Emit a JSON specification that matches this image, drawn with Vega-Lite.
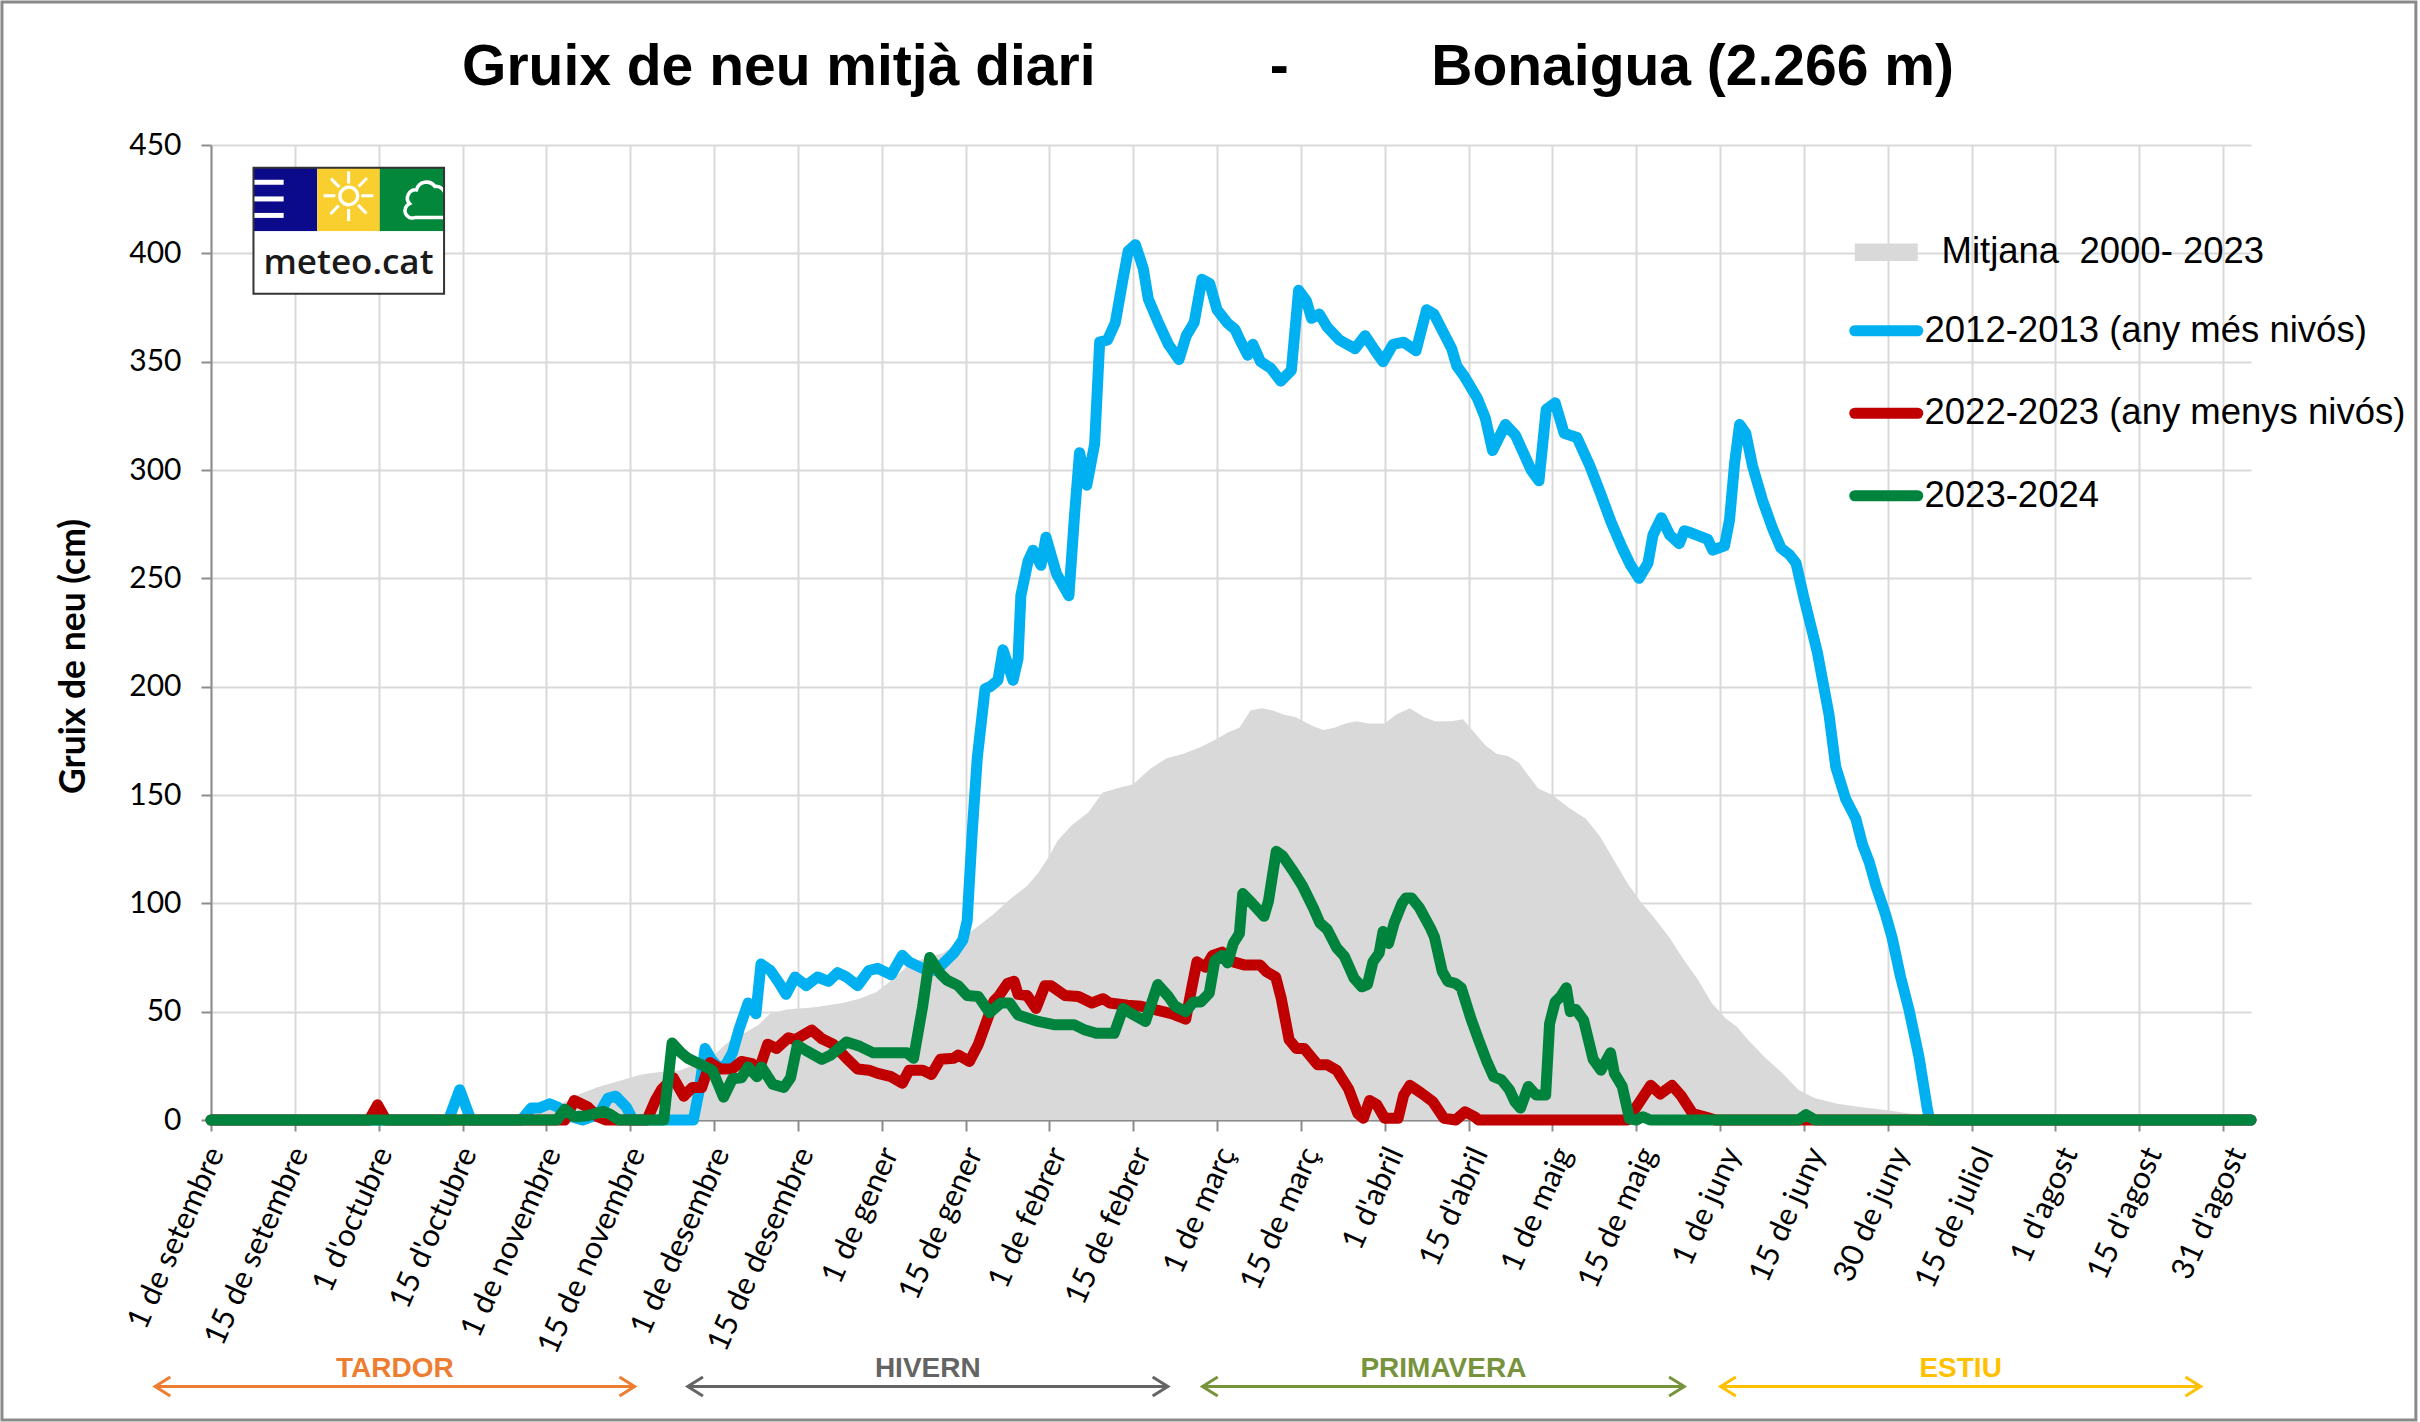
{
"$schema": "https://vega.github.io/schema/vega-lite/v6.json",
"width": 2040, "height": 975,
"autosize": {"type": "none"},
"padding": {"left": 211, "top": 145, "right": 169, "bottom": 302},
"background": "white",
"config": {"view": {"stroke": null}, "font": "Liberation Sans"},
"title": {"text": "Gruix de neu mitjà diari\u00a0\u00a0\u00a0\u00a0\u00a0\u00a0\u00a0\u00a0\u00a0\u00a0\u00a0-\u00a0\u00a0\u00a0\u00a0\u00a0\u00a0\u00a0\u00a0\u00a0Bonaigua (2.266 m)", "font": "Liberation Sans", "fontSize": 57, "fontWeight": "bold", "color": "black", "anchor": "middle", "dx": -23, "dy": 62, "offset": -79.5, "baseline": "alphabetic"},
"data": {"values": [
{"serie":"M","dia":0,"gruix":0},{"serie":"M","dia":50,"gruix":0},{"serie":"M","dia":55,"gruix":2},{"serie":"M","dia":60,"gruix":5},{"serie":"M","dia":63,"gruix":8},{"serie":"M","dia":66,"gruix":12},{"serie":"M","dia":69,"gruix":15},{"serie":"M","dia":73,"gruix":18},{"serie":"M","dia":77,"gruix":21},{"serie":"M","dia":80,"gruix":22},{"serie":"M","dia":84,"gruix":23},{"serie":"M","dia":87,"gruix":26},{"serie":"M","dia":90,"gruix":30},{"serie":"M","dia":93,"gruix":37},{"serie":"M","dia":96,"gruix":41},{"serie":"M","dia":98,"gruix":44},{"serie":"M","dia":100,"gruix":49},{"serie":"M","dia":103,"gruix":51},{"serie":"M","dia":108,"gruix":52},{"serie":"M","dia":113,"gruix":54},{"serie":"M","dia":116,"gruix":56},{"serie":"M","dia":119,"gruix":59},{"serie":"M","dia":122,"gruix":65},{"serie":"M","dia":125,"gruix":72},{"serie":"M","dia":128,"gruix":75},{"serie":"M","dia":131,"gruix":77},{"serie":"M","dia":134,"gruix":83},{"serie":"M","dia":137,"gruix":89},{"serie":"M","dia":140,"gruix":95},{"serie":"M","dia":143,"gruix":102},{"serie":"M","dia":146,"gruix":108},{"serie":"M","dia":148,"gruix":114},{"serie":"M","dia":150,"gruix":122},{"serie":"M","dia":151.5,"gruix":129},{"serie":"M","dia":154,"gruix":136},{"serie":"M","dia":157,"gruix":142},{"serie":"M","dia":159.5,"gruix":151},{"serie":"M","dia":162,"gruix":153},{"serie":"M","dia":165,"gruix":155},{"serie":"M","dia":168,"gruix":162},{"serie":"M","dia":171,"gruix":167},{"serie":"M","dia":174,"gruix":169},{"serie":"M","dia":177,"gruix":172},{"serie":"M","dia":180,"gruix":176},{"serie":"M","dia":182,"gruix":179},{"serie":"M","dia":184,"gruix":181},{"serie":"M","dia":186,"gruix":189},{"serie":"M","dia":188,"gruix":190},{"serie":"M","dia":190,"gruix":189},{"serie":"M","dia":192,"gruix":187},{"serie":"M","dia":194,"gruix":186},{"serie":"M","dia":197,"gruix":182},{"serie":"M","dia":199,"gruix":180},{"serie":"M","dia":201,"gruix":181},{"serie":"M","dia":203,"gruix":183},{"serie":"M","dia":205,"gruix":184},{"serie":"M","dia":207,"gruix":183},{"serie":"M","dia":210,"gruix":183},{"serie":"M","dia":212,"gruix":187},{"serie":"M","dia":214.5,"gruix":190},{"serie":"M","dia":217,"gruix":186},{"serie":"M","dia":219,"gruix":184},{"serie":"M","dia":222,"gruix":184},{"serie":"M","dia":224,"gruix":185},{"serie":"M","dia":226,"gruix":179},{"serie":"M","dia":228,"gruix":173},{"serie":"M","dia":230,"gruix":169},{"serie":"M","dia":232,"gruix":168},{"serie":"M","dia":234,"gruix":165},{"serie":"M","dia":236,"gruix":158},{"serie":"M","dia":237.5,"gruix":153},{"serie":"M","dia":240,"gruix":150},{"serie":"M","dia":243,"gruix":144},{"serie":"M","dia":246,"gruix":139},{"serie":"M","dia":248.5,"gruix":131},{"serie":"M","dia":251,"gruix":120},{"serie":"M","dia":253.5,"gruix":109},{"serie":"M","dia":256,"gruix":100},{"serie":"M","dia":258,"gruix":94},{"serie":"M","dia":261,"gruix":84},{"serie":"M","dia":263.5,"gruix":74},{"serie":"M","dia":266,"gruix":65},{"serie":"M","dia":268.5,"gruix":54},{"serie":"M","dia":271,"gruix":47},{"serie":"M","dia":273,"gruix":43},{"serie":"M","dia":275,"gruix":37},{"serie":"M","dia":278,"gruix":29},{"serie":"M","dia":281,"gruix":22},{"serie":"M","dia":284,"gruix":14},{"serie":"M","dia":287,"gruix":10},{"serie":"M","dia":291,"gruix":7.5},{"serie":"M","dia":295,"gruix":6},{"serie":"M","dia":300,"gruix":4.5},{"serie":"M","dia":305,"gruix":2.5},{"serie":"M","dia":310,"gruix":0.5},{"serie":"M","dia":312,"gruix":0},{"serie":"M","dia":365,"gruix":0},
{"serie":"B","dia":0,"gruix":0},{"serie":"B","dia":42.5,"gruix":0},{"serie":"B","dia":44.5,"gruix":14},{"serie":"B","dia":46.5,"gruix":0},{"serie":"B","dia":55.5,"gruix":0},{"serie":"B","dia":57.3,"gruix":5.5},{"serie":"B","dia":58.7,"gruix":5.5},{"serie":"B","dia":60.6,"gruix":7.5},{"serie":"B","dia":62,"gruix":6},{"serie":"B","dia":64.5,"gruix":1.5},{"serie":"B","dia":66.5,"gruix":0},{"serie":"B","dia":69.5,"gruix":3},{"serie":"B","dia":71,"gruix":10},{"serie":"B","dia":72.4,"gruix":11},{"serie":"B","dia":74.3,"gruix":6},{"serie":"B","dia":75.5,"gruix":0},{"serie":"B","dia":86.3,"gruix":0},{"serie":"B","dia":87.3,"gruix":13},{"serie":"B","dia":88.4,"gruix":33},{"serie":"B","dia":89.5,"gruix":28},{"serie":"B","dia":90.5,"gruix":25},{"serie":"B","dia":91.8,"gruix":24},{"serie":"B","dia":93.3,"gruix":31},{"serie":"B","dia":94.5,"gruix":42},{"serie":"B","dia":96.1,"gruix":54},{"serie":"B","dia":97.5,"gruix":49},{"serie":"B","dia":98.4,"gruix":72},{"serie":"B","dia":100.1,"gruix":69},{"serie":"B","dia":101.7,"gruix":63},{"serie":"B","dia":102.9,"gruix":58},{"serie":"B","dia":104.5,"gruix":66},{"serie":"B","dia":106.5,"gruix":62},{"serie":"B","dia":108.5,"gruix":66},{"serie":"B","dia":110.5,"gruix":64},{"serie":"B","dia":112.1,"gruix":68},{"serie":"B","dia":113.7,"gruix":66},{"serie":"B","dia":115.7,"gruix":62},{"serie":"B","dia":117.7,"gruix":69},{"serie":"B","dia":119.3,"gruix":70},{"serie":"B","dia":121.7,"gruix":67},{"serie":"B","dia":123.7,"gruix":76},{"serie":"B","dia":124.9,"gruix":73},{"serie":"B","dia":127.3,"gruix":70},{"serie":"B","dia":129.7,"gruix":69},{"serie":"B","dia":131.3,"gruix":73},{"serie":"B","dia":132.9,"gruix":77},{"serie":"B","dia":134.5,"gruix":83},{"serie":"B","dia":135.3,"gruix":92},{"serie":"B","dia":136.2,"gruix":133},{"serie":"B","dia":137.1,"gruix":167},{"serie":"B","dia":138.5,"gruix":199},{"serie":"B","dia":139.4,"gruix":200},{"serie":"B","dia":140.8,"gruix":203},{"serie":"B","dia":141.7,"gruix":217},{"serie":"B","dia":143.5,"gruix":203},{"serie":"B","dia":144.4,"gruix":213},{"serie":"B","dia":144.9,"gruix":242},{"serie":"B","dia":146.2,"gruix":258},{"serie":"B","dia":147.1,"gruix":263},{"serie":"B","dia":148.5,"gruix":256},{"serie":"B","dia":149.4,"gruix":269},{"serie":"B","dia":151.3,"gruix":252},{"serie":"B","dia":153.5,"gruix":242},{"serie":"B","dia":154.5,"gruix":279},{"serie":"B","dia":155.4,"gruix":308},{"serie":"B","dia":156.7,"gruix":293},{"serie":"B","dia":158.1,"gruix":312},{"serie":"B","dia":159,"gruix":359},{"serie":"B","dia":160.4,"gruix":360},{"serie":"B","dia":161.8,"gruix":368},{"serie":"B","dia":163.1,"gruix":387},{"serie":"B","dia":164.1,"gruix":401},{"serie":"B","dia":165.4,"gruix":404},{"serie":"B","dia":166.8,"gruix":393},{"serie":"B","dia":167.7,"gruix":379},{"serie":"B","dia":169.5,"gruix":368},{"serie":"B","dia":171.3,"gruix":358},{"serie":"B","dia":173.2,"gruix":351},{"serie":"B","dia":174.5,"gruix":362},{"serie":"B","dia":175.9,"gruix":368},{"serie":"B","dia":177.3,"gruix":388},{"serie":"B","dia":178.7,"gruix":386},{"serie":"B","dia":180,"gruix":374},{"serie":"B","dia":181.8,"gruix":368},{"serie":"B","dia":183.2,"gruix":365},{"serie":"B","dia":184.1,"gruix":360},{"serie":"B","dia":185.5,"gruix":353},{"serie":"B","dia":186.4,"gruix":358},{"serie":"B","dia":187.8,"gruix":350},{"serie":"B","dia":189.6,"gruix":347},{"serie":"B","dia":191.4,"gruix":341},{"serie":"B","dia":193.3,"gruix":346},{"serie":"B","dia":194.6,"gruix":383},{"serie":"B","dia":196,"gruix":378},{"serie":"B","dia":196.9,"gruix":370},{"serie":"B","dia":198.3,"gruix":372},{"serie":"B","dia":199.7,"gruix":366},{"serie":"B","dia":201.9,"gruix":360},{"serie":"B","dia":204.7,"gruix":356},{"serie":"B","dia":206.5,"gruix":362},{"serie":"B","dia":208.3,"gruix":355},{"serie":"B","dia":209.7,"gruix":350},{"serie":"B","dia":211.5,"gruix":358},{"serie":"B","dia":213.4,"gruix":359},{"serie":"B","dia":215.6,"gruix":355},{"serie":"B","dia":217.5,"gruix":374},{"serie":"B","dia":218.8,"gruix":372},{"serie":"B","dia":220.2,"gruix":365},{"serie":"B","dia":222,"gruix":356},{"serie":"B","dia":222.9,"gruix":348},{"serie":"B","dia":224.3,"gruix":343},{"serie":"B","dia":226.6,"gruix":333},{"serie":"B","dia":228,"gruix":324},{"serie":"B","dia":229.3,"gruix":309},{"serie":"B","dia":231.6,"gruix":321},{"serie":"B","dia":233.4,"gruix":316},{"serie":"B","dia":236.2,"gruix":300},{"serie":"B","dia":237.6,"gruix":295},{"serie":"B","dia":238.9,"gruix":328},{"serie":"B","dia":240.5,"gruix":331},{"serie":"B","dia":242.1,"gruix":317},{"serie":"B","dia":244.4,"gruix":315},{"serie":"B","dia":246.7,"gruix":302},{"serie":"B","dia":248.5,"gruix":290},{"serie":"B","dia":250.5,"gruix":276},{"serie":"B","dia":252.5,"gruix":264},{"serie":"B","dia":254,"gruix":256},{"serie":"B","dia":255.5,"gruix":250},{"serie":"B","dia":257.1,"gruix":257},{"serie":"B","dia":258,"gruix":270},{"serie":"B","dia":259.5,"gruix":278},{"serie":"B","dia":261,"gruix":270},{"serie":"B","dia":262.7,"gruix":266},{"serie":"B","dia":263.6,"gruix":272},{"serie":"B","dia":264.8,"gruix":271},{"serie":"B","dia":267.8,"gruix":268},{"serie":"B","dia":268.7,"gruix":263},{"serie":"B","dia":270.8,"gruix":265},{"serie":"B","dia":271.7,"gruix":277},{"serie":"B","dia":272.6,"gruix":303},{"serie":"B","dia":273.5,"gruix":321},{"serie":"B","dia":274.6,"gruix":317},{"serie":"B","dia":275.8,"gruix":302},{"serie":"B","dia":277.6,"gruix":286},{"serie":"B","dia":279.4,"gruix":273},{"serie":"B","dia":280.9,"gruix":264},{"serie":"B","dia":282.4,"gruix":261},{"serie":"B","dia":283.6,"gruix":257},{"serie":"B","dia":285.1,"gruix":240},{"serie":"B","dia":287.4,"gruix":216},{"serie":"B","dia":289.5,"gruix":187},{"serie":"B","dia":290.7,"gruix":163},{"serie":"B","dia":292.5,"gruix":148},{"serie":"B","dia":294.3,"gruix":139},{"serie":"B","dia":295.5,"gruix":127},{"serie":"B","dia":296.7,"gruix":119},{"serie":"B","dia":297.9,"gruix":108},{"serie":"B","dia":299.6,"gruix":95},{"serie":"B","dia":300.8,"gruix":84},{"serie":"B","dia":302.3,"gruix":66},{"serie":"B","dia":303.8,"gruix":51},{"serie":"B","dia":305.6,"gruix":29},{"serie":"B","dia":307.1,"gruix":5},{"serie":"B","dia":307.5,"gruix":0},{"serie":"B","dia":365,"gruix":0},
{"serie":"R","dia":0,"gruix":0},{"serie":"R","dia":28.3,"gruix":0},{"serie":"R","dia":29.8,"gruix":7},{"serie":"R","dia":31.3,"gruix":0},{"serie":"R","dia":63.3,"gruix":0},{"serie":"R","dia":65,"gruix":9},{"serie":"R","dia":67.4,"gruix":6},{"serie":"R","dia":69.2,"gruix":1.5},{"serie":"R","dia":70.6,"gruix":0},{"serie":"R","dia":78,"gruix":0},{"serie":"R","dia":79.5,"gruix":9},{"serie":"R","dia":80.6,"gruix":14},{"serie":"R","dia":82.7,"gruix":19.5},{"serie":"R","dia":84.6,"gruix":11},{"serie":"R","dia":86.1,"gruix":15},{"serie":"R","dia":87.8,"gruix":15},{"serie":"R","dia":89.3,"gruix":26.5},{"serie":"R","dia":91.2,"gruix":23.5},{"serie":"R","dia":93.2,"gruix":23.5},{"serie":"R","dia":94.9,"gruix":27},{"serie":"R","dia":96.8,"gruix":26},{"serie":"R","dia":98.1,"gruix":23.5},{"serie":"R","dia":99.6,"gruix":35},{"serie":"R","dia":101.2,"gruix":33},{"serie":"R","dia":103.3,"gruix":38},{"serie":"R","dia":104.5,"gruix":37},{"serie":"R","dia":106.5,"gruix":40},{"serie":"R","dia":107.5,"gruix":41.5},{"serie":"R","dia":109.3,"gruix":37.5},{"serie":"R","dia":111.3,"gruix":35},{"serie":"R","dia":113.7,"gruix":28.5},{"serie":"R","dia":115.7,"gruix":23.5},{"serie":"R","dia":117.7,"gruix":23},{"serie":"R","dia":119.3,"gruix":21.5},{"serie":"R","dia":121.7,"gruix":20},{"serie":"R","dia":123.7,"gruix":17},{"serie":"R","dia":124.9,"gruix":23},{"serie":"R","dia":127.3,"gruix":23},{"serie":"R","dia":128.9,"gruix":21},{"serie":"R","dia":130.5,"gruix":28},{"serie":"R","dia":132.9,"gruix":28.5},{"serie":"R","dia":133.7,"gruix":30},{"serie":"R","dia":135.7,"gruix":27},{"serie":"R","dia":137.3,"gruix":35},{"serie":"R","dia":140.1,"gruix":55},{"serie":"R","dia":140.9,"gruix":57},{"serie":"R","dia":142.5,"gruix":63},{"serie":"R","dia":143.7,"gruix":64},{"serie":"R","dia":144.4,"gruix":58},{"serie":"R","dia":146,"gruix":57.5},{"serie":"R","dia":147.6,"gruix":51.5},{"serie":"R","dia":149.2,"gruix":62},{"serie":"R","dia":150.3,"gruix":62},{"serie":"R","dia":152.8,"gruix":57.5},{"serie":"R","dia":155.2,"gruix":57},{"serie":"R","dia":157.6,"gruix":54},{"serie":"R","dia":159.6,"gruix":56},{"serie":"R","dia":160.8,"gruix":54},{"serie":"R","dia":164,"gruix":53},{"serie":"R","dia":166.4,"gruix":52.5},{"serie":"R","dia":169.6,"gruix":50.5},{"serie":"R","dia":172,"gruix":49},{"serie":"R","dia":174.4,"gruix":46.5},{"serie":"R","dia":175.4,"gruix":60},{"serie":"R","dia":176.4,"gruix":73},{"serie":"R","dia":177.9,"gruix":70.5},{"serie":"R","dia":179.2,"gruix":76},{"serie":"R","dia":180.9,"gruix":77.5},{"serie":"R","dia":182.9,"gruix":73},{"serie":"R","dia":185,"gruix":71.5},{"serie":"R","dia":187.7,"gruix":71.5},{"serie":"R","dia":188.8,"gruix":68.5},{"serie":"R","dia":190.5,"gruix":66},{"serie":"R","dia":191.5,"gruix":56},{"serie":"R","dia":192.9,"gruix":37},{"serie":"R","dia":194.2,"gruix":33},{"serie":"R","dia":195.6,"gruix":33},{"serie":"R","dia":198,"gruix":25.5},{"serie":"R","dia":199.7,"gruix":25.5},{"serie":"R","dia":201.4,"gruix":23},{"serie":"R","dia":203.5,"gruix":14.5},{"serie":"R","dia":205.2,"gruix":3},{"serie":"R","dia":206.2,"gruix":0.8},{"serie":"R","dia":207.3,"gruix":9},{"serie":"R","dia":208.6,"gruix":7},{"serie":"R","dia":210,"gruix":0.8},{"serie":"R","dia":212.4,"gruix":0.8},{"serie":"R","dia":213.4,"gruix":11.5},{"serie":"R","dia":214.5,"gruix":16},{"serie":"R","dia":216.5,"gruix":12.5},{"serie":"R","dia":218.6,"gruix":8.5},{"serie":"R","dia":220.6,"gruix":0.8},{"serie":"R","dia":222.7,"gruix":0},{"serie":"R","dia":224.4,"gruix":3.8},{"serie":"R","dia":226.1,"gruix":1.5},{"serie":"R","dia":226.8,"gruix":0},{"serie":"R","dia":253.5,"gruix":0},{"serie":"R","dia":254.9,"gruix":5.5},{"serie":"R","dia":257.6,"gruix":16},{"serie":"R","dia":259.3,"gruix":12},{"serie":"R","dia":261.4,"gruix":16},{"serie":"R","dia":263.1,"gruix":11},{"serie":"R","dia":265.1,"gruix":3},{"serie":"R","dia":267.9,"gruix":1},{"serie":"R","dia":269.2,"gruix":0},{"serie":"R","dia":365,"gruix":0},
{"serie":"G","dia":0,"gruix":0},{"serie":"G","dia":61.9,"gruix":0},{"serie":"G","dia":63.3,"gruix":5},{"serie":"G","dia":65,"gruix":1.5},{"serie":"G","dia":67.4,"gruix":2},{"serie":"G","dia":70.2,"gruix":4},{"serie":"G","dia":71.5,"gruix":2.5},{"serie":"G","dia":73,"gruix":0},{"serie":"G","dia":81,"gruix":0},{"serie":"G","dia":82.5,"gruix":35.5},{"serie":"G","dia":84.1,"gruix":31},{"serie":"G","dia":85.3,"gruix":28.5},{"serie":"G","dia":87.3,"gruix":26},{"serie":"G","dia":89.7,"gruix":23},{"serie":"G","dia":91.7,"gruix":10.5},{"serie":"G","dia":93.3,"gruix":19},{"serie":"G","dia":94.9,"gruix":19.5},{"serie":"G","dia":96.1,"gruix":24.5},{"serie":"G","dia":97.7,"gruix":20},{"serie":"G","dia":98.5,"gruix":24.5},{"serie":"G","dia":100.5,"gruix":16.5},{"serie":"G","dia":102.5,"gruix":15},{"serie":"G","dia":103.7,"gruix":19.5},{"serie":"G","dia":104.9,"gruix":34.5},{"serie":"G","dia":106.5,"gruix":32},{"serie":"G","dia":109.3,"gruix":28},{"serie":"G","dia":110.9,"gruix":30},{"serie":"G","dia":113.7,"gruix":36},{"serie":"G","dia":116.1,"gruix":34},{"serie":"G","dia":118.5,"gruix":31},{"serie":"G","dia":121.7,"gruix":31},{"serie":"G","dia":124.5,"gruix":31},{"serie":"G","dia":125.7,"gruix":28.5},{"serie":"G","dia":127.3,"gruix":52},{"serie":"G","dia":128.6,"gruix":75},{"serie":"G","dia":130.5,"gruix":67.5},{"serie":"G","dia":131.7,"gruix":64.5},{"serie":"G","dia":133.7,"gruix":62},{"serie":"G","dia":135.3,"gruix":57.5},{"serie":"G","dia":137.3,"gruix":57},{"serie":"G","dia":139.3,"gruix":49.5},{"serie":"G","dia":141.3,"gruix":54},{"serie":"G","dia":142.9,"gruix":54},{"serie":"G","dia":144.4,"gruix":48.5},{"serie":"G","dia":148,"gruix":45.5},{"serie":"G","dia":150.8,"gruix":44},{"serie":"G","dia":154.4,"gruix":44},{"serie":"G","dia":156.4,"gruix":41.5},{"serie":"G","dia":158.4,"gruix":40},{"serie":"G","dia":161.6,"gruix":40},{"serie":"G","dia":163.2,"gruix":51.5},{"serie":"G","dia":164.4,"gruix":49.5},{"serie":"G","dia":167.2,"gruix":45.5},{"serie":"G","dia":169.4,"gruix":62.5},{"serie":"G","dia":171.3,"gruix":57},{"serie":"G","dia":172.5,"gruix":52.5},{"serie":"G","dia":174.4,"gruix":50},{"serie":"G","dia":175.8,"gruix":54.5},{"serie":"G","dia":177.1,"gruix":54.5},{"serie":"G","dia":178.6,"gruix":58.5},{"serie":"G","dia":179.6,"gruix":73.5},{"serie":"G","dia":180.9,"gruix":76},{"serie":"G","dia":181.9,"gruix":72.5},{"serie":"G","dia":182.9,"gruix":81.5},{"serie":"G","dia":184,"gruix":86},{"serie":"G","dia":184.6,"gruix":104.5},{"serie":"G","dia":186.3,"gruix":100},{"serie":"G","dia":188.4,"gruix":94},{"serie":"G","dia":189.2,"gruix":101},{"serie":"G","dia":190.6,"gruix":124},{"serie":"G","dia":191.7,"gruix":122},{"serie":"G","dia":193.6,"gruix":115},{"serie":"G","dia":195.3,"gruix":108},{"serie":"G","dia":197.3,"gruix":97.5},{"serie":"G","dia":198.4,"gruix":91},{"serie":"G","dia":199.7,"gruix":88},{"serie":"G","dia":201.4,"gruix":79.5},{"serie":"G","dia":202.8,"gruix":75.5},{"serie":"G","dia":204.5,"gruix":65.5},{"serie":"G","dia":205.9,"gruix":61.5},{"serie":"G","dia":206.9,"gruix":62.5},{"serie":"G","dia":207.9,"gruix":73},{"serie":"G","dia":209,"gruix":77},{"serie":"G","dia":209.7,"gruix":87},{"serie":"G","dia":210.7,"gruix":81.5},{"serie":"G","dia":211.7,"gruix":91},{"serie":"G","dia":213.1,"gruix":100},{"serie":"G","dia":213.8,"gruix":102.5},{"serie":"G","dia":214.8,"gruix":102.5},{"serie":"G","dia":216.2,"gruix":98},{"serie":"G","dia":218.2,"gruix":88.5},{"serie":"G","dia":218.9,"gruix":84.5},{"serie":"G","dia":220.3,"gruix":68.5},{"serie":"G","dia":221.3,"gruix":64},{"serie":"G","dia":222.7,"gruix":63},{"serie":"G","dia":223.7,"gruix":61},{"serie":"G","dia":225.4,"gruix":47},{"serie":"G","dia":226.8,"gruix":37},{"serie":"G","dia":228.2,"gruix":27.5},{"serie":"G","dia":229.5,"gruix":20},{"serie":"G","dia":230.9,"gruix":18.5},{"serie":"G","dia":232.3,"gruix":14},{"serie":"G","dia":233.3,"gruix":8.5},{"serie":"G","dia":234.3,"gruix":5.5},{"serie":"G","dia":235.7,"gruix":15.5},{"serie":"G","dia":237.1,"gruix":11.5},{"serie":"G","dia":238.8,"gruix":11.5},{"serie":"G","dia":239.5,"gruix":44.5},{"serie":"G","dia":240.5,"gruix":54.5},{"serie":"G","dia":241.5,"gruix":57},{"serie":"G","dia":242.5,"gruix":61},{"serie":"G","dia":243.2,"gruix":50},{"serie":"G","dia":244.2,"gruix":51},{"serie":"G","dia":245.6,"gruix":46},{"serie":"G","dia":247.3,"gruix":28},{"serie":"G","dia":248.7,"gruix":23},{"serie":"G","dia":250.4,"gruix":31},{"serie":"G","dia":251.1,"gruix":21.5},{"serie":"G","dia":252.5,"gruix":15.5},{"serie":"G","dia":253.8,"gruix":0.5},{"serie":"G","dia":255,"gruix":0},{"serie":"G","dia":256.2,"gruix":1.5},{"serie":"G","dia":257.5,"gruix":0},{"serie":"G","dia":284,"gruix":0},{"serie":"G","dia":285.4,"gruix":2.5},{"serie":"G","dia":287,"gruix":0},{"serie":"G","dia":365,"gruix":0}
]},
"layer": [
{"data": {"values": [{}]}, "mark": {"type": "rect", "fill": "transparent", "stroke": "#8A8A8A", "strokeWidth": 3},
 "encoding": {"x": {"datum": -37.4, "type": "quantitative", "title": null, "scale": {"domain": [0, 365], "nice": false, "zero": false}}, "x2": {"datum": 394.5}, "y": {"datum": 516, "type": "quantitative", "title": "Gruix de neu (cm)", "scale": {"domain": [0, 450], "nice": false, "zero": false}}, "y2": {"datum": -138.5}}},
{"transform": [{"filter": "datum.serie === 'M'"}], "mark": {"type": "area", "interpolate": "linear"},
 "encoding": {
  "x": {"field": "dia", "type": "quantitative", "title": null, "scale": {"domain": [0, 365], "nice": false, "zero": false},
        "axis": {"values": [0,15,30,45,60,75,90,105,120,135,150,165,180,195,210,225,240,255,270,285,300,315,330,345,360],
                 "labelExpr": "[\"1 de setembre\",\"15 de setembre\",\"1 d'octubre\",\"15 d'octubre\",\"1 de novembre\",\"15 de novembre\",\"1 de desembre\",\"15 de desembre\",\"1 de gener\",\"15 de gener\",\"1 de febrer\",\"15 de febrer\",\"1 de març\",\"15 de març\",\"1 d'abril\",\"15 d'abril\",\"1 de maig\",\"15 de maig\",\"1 de juny\",\"15 de juny\",\"30 de juny\",\"15 de juliol\",\"1 d'agost\",\"15 d'agost\",\"31 d'agost\"][round(datum.value/15)]",
                 "labelAngle": -66, "labelAlign": "right", "labelBaseline": "middle", "labelFont": "Lato", "labelFontSize": 31, "labelColor": "black", "labelPadding": 18, "labelDx": 3, "labelDy": 6, "labelOverlap": false, "labelFlush": false, "labelLimit": 0,
                 "labelOffset": {"expr": "5 + datum.value / 36"},
                 "grid": true, "gridColor": "#D9D9D9", "gridWidth": 2, "domainColor": "#8C8C8C", "domainWidth": 2, "tickColor": "#8C8C8C", "tickWidth": 2, "tickSize": 11}},
  "y": {"field": "gruix", "type": "quantitative", "title": "Gruix de neu (cm)", "stack": null, "scale": {"domain": [0, 450], "nice": false, "zero": false},
        "axis": {"values": [0,50,100,150,200,250,300,350,400,450], "labelFont": "Lato", "labelFontSize": 30, "labelColor": "black", "labelPadding": 20,
                 "grid": true, "gridColor": "#D9D9D9", "gridWidth": 2, "domainColor": "#8C8C8C", "domainWidth": 2, "tickColor": "#8C8C8C", "tickWidth": 2, "tickSize": 10,
                 "titleFont": "Lato", "titleFontSize": 35.5, "titleFontWeight": "bold", "titleColor": "black", "titleX": -138, "titleY": 511, "titleBaseline": "middle", "titleAngle": -90}},
  "color": {"field": "serie", "type": "nominal",
            "scale": {"domain": ["M", "B", "R", "G"], "range": ["#D9D9D9", "#00B0F0", "#C00000", "#00843D"]},
            "legend": {"orient": "none", "legendX": 1657, "legendY": 89, "title": null, "padding": 0, "direction": "vertical",
                       "labelExpr": "datum.value === 'M' ? 'Mitjana\u00a0 2000- 2023' : datum.value === 'B' ? '2012-2013 (any més nivós)' : datum.value === 'R' ? '2022-2023 (any menys nivós)' : '2023-2024'",
                       "labelFont": "Liberation Sans", "labelFontSize": 36.5, "labelColor": "black", "labelOffset": 20, "labelLimit": 0,
                       "symbolSize": 3969, "rowPadding": 37.5,
                       "encode": {
                         "symbols": {"update": {
                           "shape": {"signal": "datum.value === 'M' ? 'M-1,-0.28H1V0.28H-1Z' : 'M-1,0H1'"},
                           "fill": {"signal": "datum.value === 'M' ? '#D9D9D9' : 'transparent'"},
                           "stroke": {"signal": "datum.value === 'M' ? 'transparent' : datum.value === 'B' ? '#00B0F0' : datum.value === 'R' ? '#C00000' : '#00843D'"},
                           "strokeWidth": {"signal": "datum.value === 'M' ? 0 : 11"},
                           "strokeCap": {"value": "round"},
                           "opacity": {"value": 1}, "fillOpacity": {"value": 1}, "strokeOpacity": {"value": 1}}},
                         "labels": {"update": {"dx": {"signal": "datum.value === 'M' ? 17 : 0"}}}}}}
 }},
{"transform": [{"filter": "datum.serie === 'B'"}], "mark": {"type": "line", "strokeWidth": 11, "strokeCap": "round", "strokeJoin": "round"},
 "encoding": {"x": {"field": "dia", "type": "quantitative", "title": null, "scale": {"domain": [0, 365], "nice": false, "zero": false}},
  "y": {"field": "gruix", "type": "quantitative", "title": "Gruix de neu (cm)", "scale": {"domain": [0, 450], "nice": false, "zero": false}},
  "color": {"field": "serie", "type": "nominal", "scale": {"domain": ["M", "B", "R", "G"], "range": ["#D9D9D9", "#00B0F0", "#C00000", "#00843D"]}}}},
{"transform": [{"filter": "datum.serie === 'R'"}], "mark": {"type": "line", "strokeWidth": 11, "strokeCap": "round", "strokeJoin": "round"},
 "encoding": {"x": {"field": "dia", "type": "quantitative", "title": null, "scale": {"domain": [0, 365], "nice": false, "zero": false}},
  "y": {"field": "gruix", "type": "quantitative", "title": "Gruix de neu (cm)", "scale": {"domain": [0, 450], "nice": false, "zero": false}},
  "color": {"field": "serie", "type": "nominal", "scale": {"domain": ["M", "B", "R", "G"], "range": ["#D9D9D9", "#00B0F0", "#C00000", "#00843D"]}}}},
{"transform": [{"filter": "datum.serie === 'G'"}], "mark": {"type": "line", "strokeWidth": 11, "strokeCap": "round", "strokeJoin": "round"},
 "encoding": {"x": {"field": "dia", "type": "quantitative", "title": null, "scale": {"domain": [0, 365], "nice": false, "zero": false}},
  "y": {"field": "gruix", "type": "quantitative", "title": "Gruix de neu (cm)", "scale": {"domain": [0, 450], "nice": false, "zero": false}},
  "color": {"field": "serie", "type": "nominal", "scale": {"domain": ["M", "B", "R", "G"], "range": ["#D9D9D9", "#00B0F0", "#C00000", "#00843D"]}}}},
{"data": {"values": [{}]}, "mark": {"type": "rect", "fill": "#0A0A8A"},
 "encoding": {"x": {"datum": 7.6, "type": "quantitative", "title": null, "scale": {"domain": [0, 365], "nice": false, "zero": false}}, "x2": {"datum": 19.0}, "y": {"datum": 410.2, "type": "quantitative", "title": "Gruix de neu (cm)", "scale": {"domain": [0, 450], "nice": false, "zero": false}}, "y2": {"datum": 439.5}}},
{"data": {"values": [{}]}, "mark": {"type": "rect", "fill": "#F8CF2F"},
 "encoding": {"x": {"datum": 19.0, "type": "quantitative", "title": null, "scale": {"domain": [0, 365], "nice": false, "zero": false}}, "x2": {"datum": 30.2}, "y": {"datum": 410.2, "type": "quantitative", "title": "Gruix de neu (cm)", "scale": {"domain": [0, 450], "nice": false, "zero": false}}, "y2": {"datum": 439.5}}},
{"data": {"values": [{}]}, "mark": {"type": "rect", "fill": "#02873B"},
 "encoding": {"x": {"datum": 30.2, "type": "quantitative", "title": null, "scale": {"domain": [0, 365], "nice": false, "zero": false}}, "x2": {"datum": 41.7}, "y": {"datum": 410.2, "type": "quantitative", "title": "Gruix de neu (cm)", "scale": {"domain": [0, 450], "nice": false, "zero": false}}, "y2": {"datum": 439.5}}},
{"data": {"values": [{}]}, "mark": {"type": "rect", "fill": "white"},
 "encoding": {"x": {"datum": 7.6, "type": "quantitative", "title": null, "scale": {"domain": [0, 365], "nice": false, "zero": false}}, "x2": {"datum": 41.7}, "y": {"datum": 381.4, "type": "quantitative", "title": "Gruix de neu (cm)", "scale": {"domain": [0, 450], "nice": false, "zero": false}}, "y2": {"datum": 410.2}}},
{"data": {"values": [{}]}, "mark": {"type": "rule", "stroke": "white", "strokeWidth": 5},
 "encoding": {"x": {"datum": 7.6, "type": "quantitative", "title": null, "scale": {"domain": [0, 365], "nice": false, "zero": false}}, "x2": {"datum": 13.0}, "y": {"datum": 432.8, "type": "quantitative", "title": "Gruix de neu (cm)", "scale": {"domain": [0, 450], "nice": false, "zero": false}}}},
{"data": {"values": [{}]}, "mark": {"type": "rule", "stroke": "white", "strokeWidth": 5},
 "encoding": {"x": {"datum": 7.6, "type": "quantitative", "title": null, "scale": {"domain": [0, 365], "nice": false, "zero": false}}, "x2": {"datum": 13.0}, "y": {"datum": 425.1, "type": "quantitative", "title": "Gruix de neu (cm)", "scale": {"domain": [0, 450], "nice": false, "zero": false}}}},
{"data": {"values": [{}]}, "mark": {"type": "rule", "stroke": "white", "strokeWidth": 5},
 "encoding": {"x": {"datum": 7.6, "type": "quantitative", "title": null, "scale": {"domain": [0, 365], "nice": false, "zero": false}}, "x2": {"datum": 13.0}, "y": {"datum": 417.5, "type": "quantitative", "title": "Gruix de neu (cm)", "scale": {"domain": [0, 450], "nice": false, "zero": false}}}},
{"data": {"values": [{}]}, "mark": {"type": "text", "text": "☼", "font": "DejaVu Sans", "fontSize": 68, "fill": "white", "align": "center", "baseline": "middle"},
 "encoding": {"x": {"datum": 24.6, "type": "quantitative", "title": null, "scale": {"domain": [0, 365], "nice": false, "zero": false}}, "y": {"datum": 424.0, "type": "quantitative", "title": "Gruix de neu (cm)", "scale": {"domain": [0, 450], "nice": false, "zero": false}}}},
{"data": {"values": [{}]}, "mark": {"type": "point", "shape": "M0.95,0.75L-0.35,0.75A0.32,0.32 0 0 1 -0.6,0.15A0.36,0.36 0 0 1 -0.3,-0.45A0.45,0.45 0 0 1 0.5,-0.6A0.4,0.4 0 0 1 0.95,-0.2", "filled": false, "stroke": "white", "strokeWidth": 3.5, "size": 2116, "opacity": 1},
 "encoding": {"x": {"datum": 38.0, "type": "quantitative", "title": null, "scale": {"domain": [0, 365], "nice": false, "zero": false}}, "y": {"datum": 424.5, "type": "quantitative", "title": "Gruix de neu (cm)", "scale": {"domain": [0, 450], "nice": false, "zero": false}}}},
{"data": {"values": [{}]}, "mark": {"type": "text", "text": "meteo.cat", "font": "Open Sans", "fontWeight": 600, "fontSize": 35, "fill": "#1A1A1A", "align": "center", "baseline": "middle"},
 "encoding": {"x": {"datum": 24.6, "type": "quantitative", "title": null, "scale": {"domain": [0, 365], "nice": false, "zero": false}}, "y": {"datum": 395.5, "type": "quantitative", "title": "Gruix de neu (cm)", "scale": {"domain": [0, 450], "nice": false, "zero": false}}}},
{"data": {"values": [{}]}, "mark": {"type": "rect", "fill": "transparent", "stroke": "#333333", "strokeWidth": 2},
 "encoding": {"x": {"datum": 7.6, "type": "quantitative", "title": null, "scale": {"domain": [0, 365], "nice": false, "zero": false}}, "x2": {"datum": 41.7}, "y": {"datum": 381.4, "type": "quantitative", "title": "Gruix de neu (cm)", "scale": {"domain": [0, 450], "nice": false, "zero": false}}, "y2": {"datum": 439.5}}},
{"data": {"values": [{"estacio": "TARDOR", "inici": -10, "fi": 75.8}, {"estacio": "HIVERN", "inici": 85.3, "fi": 171.2}, {"estacio": "PRIMAVERA", "inici": 177.4, "fi": 263.6}, {"estacio": "ESTIU", "inici": 270.1, "fi": 356}]},
 "layer": [
  {"mark": {"type": "rule", "strokeWidth": 3},
   "encoding": {"x": {"field": "inici", "type": "quantitative", "title": null, "scale": {"domain": [0, 365], "nice": false, "zero": false}}, "x2": {"field": "fi"}, "y": {"datum": -123, "type": "quantitative", "title": "Gruix de neu (cm)", "scale": {"domain": [0, 450], "nice": false, "zero": false}},
                "stroke": {"field": "estacio", "type": "nominal", "scale": {"domain": ["TARDOR", "HIVERN", "PRIMAVERA", "ESTIU"], "range": ["#ED7D31", "#646464", "#77933C", "#FFC000"]}, "legend": null}}},
  {"mark": {"type": "point", "shape": "M1.6,-1L0,0L1.6,1", "filled": false, "strokeWidth": 3, "size": 361, "opacity": 1},
   "encoding": {"x": {"field": "inici", "type": "quantitative", "title": null, "scale": {"domain": [0, 365], "nice": false, "zero": false}}, "y": {"datum": -123, "type": "quantitative", "title": "Gruix de neu (cm)", "scale": {"domain": [0, 450], "nice": false, "zero": false}},
                "stroke": {"field": "estacio", "type": "nominal", "scale": {"domain": ["TARDOR", "HIVERN", "PRIMAVERA", "ESTIU"], "range": ["#ED7D31", "#646464", "#77933C", "#FFC000"]}, "legend": null}}},
  {"mark": {"type": "point", "shape": "M-1.6,-1L0,0L-1.6,1", "filled": false, "strokeWidth": 3, "size": 361, "opacity": 1},
   "encoding": {"x": {"field": "fi", "type": "quantitative", "title": null, "scale": {"domain": [0, 365], "nice": false, "zero": false}}, "y": {"datum": -123, "type": "quantitative", "title": "Gruix de neu (cm)", "scale": {"domain": [0, 450], "nice": false, "zero": false}},
                "stroke": {"field": "estacio", "type": "nominal", "scale": {"domain": ["TARDOR", "HIVERN", "PRIMAVERA", "ESTIU"], "range": ["#ED7D31", "#646464", "#77933C", "#FFC000"]}, "legend": null}}},
  {"transform": [{"calculate": "(datum.inici + datum.fi) / 2", "as": "mig"}],
   "mark": {"type": "text", "font": "Liberation Sans", "fontWeight": "bold", "fontSize": 28, "baseline": "middle", "align": "center"},
   "encoding": {"x": {"field": "mig", "type": "quantitative", "title": null, "scale": {"domain": [0, 365], "nice": false, "zero": false}}, "y": {"datum": -115, "type": "quantitative", "title": "Gruix de neu (cm)", "scale": {"domain": [0, 450], "nice": false, "zero": false}}, "text": {"field": "estacio"},
                "fill": {"field": "estacio", "type": "nominal", "scale": {"domain": ["TARDOR", "HIVERN", "PRIMAVERA", "ESTIU"], "range": ["#ED7D31", "#646464", "#77933C", "#FFC000"]}, "legend": null}}}
 ]}
]
}
